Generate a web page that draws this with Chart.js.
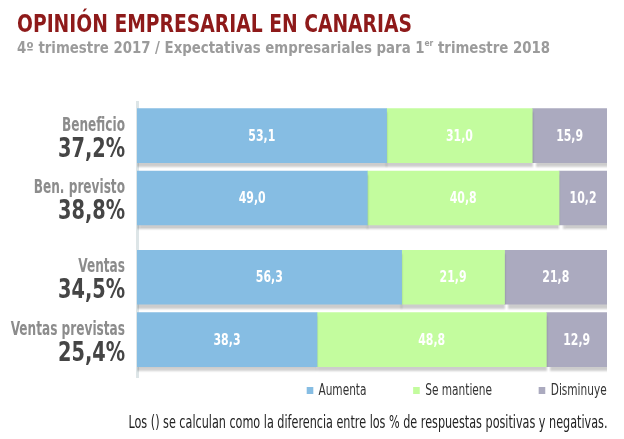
<!DOCTYPE html>
<html>
<head>
<meta charset="utf-8">
<script src="https://cdn.jsdelivr.net/npm/chart.js@4.4.1/dist/chart.umd.min.js"></script>
<style>
  body { margin: 0; background: #fff; }
  #wrap { position: relative; width: 624px; height: 439px; overflow: hidden;
    font-family: 'Liberation Sans Narrow', 'DejaVu Sans Condensed', 'Arial Narrow', sans-serif; }
  .fit { position: absolute; white-space: nowrap; }
  #title { left: 17px; top: 12px; font-size: 24px; line-height: 24px; font-weight: bold; color: #8e1a1a; transform-origin: left top; }
  #sub { left: 17px; top: 40px; font-size: 16px; line-height: 16px; font-weight: bold; color: #9b9b9b; transform-origin: left top; }
  #sub sup { font-size: 9px; vertical-align: 7px; line-height: 0; }
  #legend { right: 17px; top: 382px; display: flex; font-size: 16px; line-height: 16px; color: #333; transform-origin: right top; }
  #legend .item { display: flex; align-items: center; margin-left: 64px; }
  #legend .item:first-child { margin-left: 0; }
  #legend .box { width: 9px; height: 7px; margin-right: 7px; }
  #note { right: 17px; top: 414px; font-size: 17px; line-height: 17px; color: #222; transform-origin: right top; }
  canvas { position: absolute; left: 0; top: 0; }
</style>
</head>
<body>
<div id="wrap">
  <canvas id="chart" width="624" height="439"></canvas>
  <div id="title" class="fit" data-w="395">OPINIÓN EMPRESARIAL EN CANARIAS</div>
  <div id="sub" class="fit" data-w="533">4º trimestre 2017 / Expectativas empresariales para 1<sup>er</sup> trimestre 2018</div>
  <div id="legend" class="fit" data-w="300"></div>
  <div id="note" class="fit" data-w="479">Los () se calculan como la diferencia entre los % de respuestas positivas y negativas.</div>
</div>
<script>
const categories = ["Beneficio", "Ben. previsto", "Ventas", "Ventas previstas"];
const balance = [37.2, 38.8, 34.5, 25.4];
const aumenta = [53.1, 49.0, 56.3, 38.3];
const mantiene = [31.0, 40.8, 21.9, 48.8];
const disminuye = [15.9, 10.2, 21.8, 12.9];
const group = [0, 0, 1, 1];

const FONT = "'Liberation Sans Narrow', 'DejaVu Sans Condensed', 'Arial Narrow', sans-serif";
const fmt = (v) => v.toFixed(1).replace(".", ",");

// row position on the y scale: the two groups are separated by an extra gap
const rowPos = categories.map((c, i) => i + group[i] * 0.27);
const toPoints = (arr) => arr.map((v, i) => ({ x: v, y: rowPos[i] }));

// horizontal squeeze so the fallback font looks like the narrow original
function squeeze(ctx, font, sample, width) {
  ctx.font = font;
  return Math.min(1, width / ctx.measureText(sample).width);
}
function drawText(ctx, text, x, y, k) {
  ctx.save();
  ctx.translate(x, y);
  ctx.scale(k, 1);
  ctx.fillText(text, 0, 0);
  ctx.restore();
}

const shadowPlugin = {
  id: "barShadow",
  beforeDatasetDraw(chart, args) {
    const ctx = chart.ctx;
    ctx.save();
    ctx.shadowColor = "rgba(0,0,0,0.2)";
    ctx.shadowBlur = 2;
    ctx.shadowOffsetY = 4;
    ctx.shadowOffsetX = args.index === 2 ? 4 : 0;
  },
  afterDatasetDraw(chart) {
    chart.ctx.restore();
  },
};

const labelsPlugin = {
  id: "labels",
  afterDatasetsDraw(chart) {
    const ctx = chart.ctx;
    ctx.save();
    // values inside the bars
    const valFont = "bold 16px " + FONT;
    const kv = squeeze(ctx, valFont, "53,1", 27);
    ctx.font = valFont;
    ctx.fillStyle = "#fff";
    ctx.textAlign = "center";
    ctx.textBaseline = "middle";
    chart.data.datasets.forEach((ds, di) => {
      chart.getDatasetMeta(di).data.forEach((bar, i) => {
        drawText(ctx, fmt(ds.data[i].x), (bar.x + bar.base) / 2, bar.y + 1, kv);
      });
    });
    // category names and balances on the left
    const y = chart.scales.y;
    const nameFont = "bold 20px " + FONT;
    const balFont = "bold 27px " + FONT;
    const kn = squeeze(ctx, nameFont, "Beneficio", 63);
    const kb = squeeze(ctx, balFont, "37,2%", 67);
    ctx.textAlign = "right";
    ctx.textBaseline = "alphabetic";
    categories.forEach((c, i) => {
      const py = y.getPixelForValue(rowPos[i]);
      ctx.fillStyle = "#8c8c8c";
      ctx.font = nameFont;
      drawText(ctx, c, 125, py - 5, kn);
      ctx.fillStyle = "#454545";
      ctx.font = balFont;
      drawText(ctx, fmt(balance[i]) + "%", 125, py + 21, kb);
    });
    ctx.restore();
  },
};

const chart = new Chart(document.getElementById("chart"), {
  type: "bar",
  data: {
    datasets: [
      { label: "Aumenta", data: toPoints(aumenta), backgroundColor: "#86bde3" },
      { label: "Se mantiene", data: toPoints(mantiene), backgroundColor: "#c3fc9e" },
      { label: "Disminuye", data: toPoints(disminuye), backgroundColor: "#abaabf" },
    ],
  },
  options: {
    indexAxis: "y",
    responsive: false,
    animation: false,
    layout: { padding: { top: 102, left: 137, right: 17, bottom: 62 } },
    datasets: { bar: { barThickness: 54 } },
    scales: {
      x: { stacked: true, min: 0, max: 100, display: false },
      y: {
        type: "linear",
        stacked: true,
        reverse: true,
        offset: false,
        min: -0.54,
        max: 3.87,
        ticks: { display: false },
        grid: { display: false },
        border: { display: true, color: "#dde5e7", width: 3 },
        afterFit: (s) => { s.width = 0; },
      },
    },
    plugins: {
      legend: { display: false },
      tooltip: { enabled: false },
    },
  },
  plugins: [shadowPlugin, labelsPlugin],
});

// legend built from the chart's own legend items
const legendEl = document.getElementById("legend");
Chart.defaults.plugins.legend.labels.generateLabels(chart).forEach((item) => {
  const el = document.createElement("div");
  el.className = "item";
  const box = document.createElement("span");
  box.className = "box";
  box.style.background = item.fillStyle;
  el.appendChild(box);
  el.appendChild(document.createTextNode(item.text));
  legendEl.appendChild(el);
});

// squeeze the html texts to the width of the original lines
document.querySelectorAll(".fit").forEach((el) => {
  const w = el.getBoundingClientRect().width;
  const k = Math.min(1, +el.dataset.w / w);
  el.style.transform = "scaleX(" + k + ")";
});
</script>
</body>
</html>
